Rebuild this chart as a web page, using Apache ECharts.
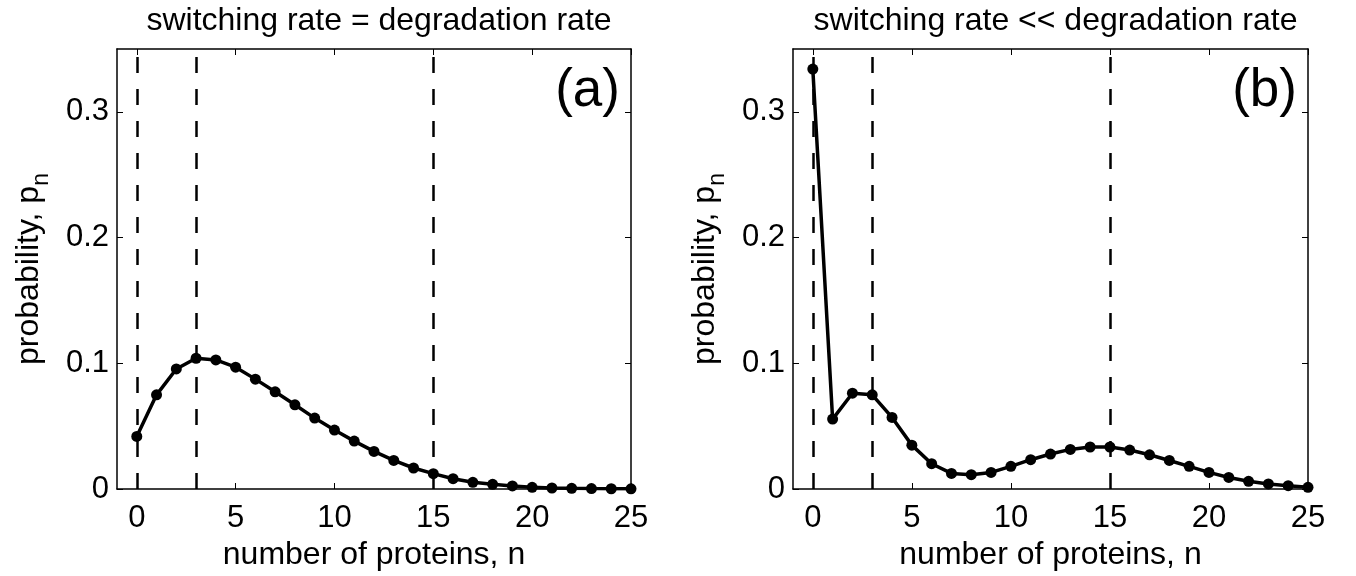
<!DOCTYPE html>
<html>
<head>
<meta charset="utf-8">
<script src="https://cdn.jsdelivr.net/npm/echarts@6/dist/echarts.min.js"></script>
<style>
  html, body { margin: 0; padding: 0; background: #fff; }
  #chart { width: 1356px; height: 576px; }
</style>
</head>
<body>
<div id="chart"></div>
<script>
// number of proteins n = 0..25
var proteins = [0, 1, 2, 3, 4, 5, 6, 7, 8, 9, 10, 11, 12, 13, 14, 15, 16, 17, 18, 19, 20, 21, 22, 23, 24, 25];

// panel (a): switching rate = degradation rate
var probEqual = [0.0418, 0.0749, 0.0955, 0.1040, 0.1027, 0.0969, 0.0874, 0.0773, 0.0670, 0.0564,
                 0.0469, 0.0381, 0.0299, 0.0227, 0.0167, 0.0122, 0.0082, 0.0053, 0.0037, 0.0024,
                 0.0013, 0.0008, 0.0005, 0.0003, 0.0002, 0.0001];

// panel (b): switching rate << degradation rate
var probSlow = [0.3340, 0.0556, 0.0762, 0.0749, 0.0569, 0.0349, 0.0201, 0.0124, 0.0114, 0.0132,
                0.0180, 0.0233, 0.0278, 0.0315, 0.0334, 0.0334, 0.0310, 0.0272, 0.0227, 0.0180,
                0.0132, 0.0092, 0.0061, 0.0040, 0.0026, 0.0013];

var dashedAt = [0, 3, 15];
var xTicks = [0, 5, 10, 15, 20, 25];
var yTicks = [0, 0.1, 0.2, 0.3];

var titles = ['switching rate = degradation rate', 'switching rate << degradation rate'];
var panelTags = ['(a)', '(b)'];

var FONT = "'Liberation Sans', Arial, Helvetica, sans-serif";
var FS = 32;     // titles and axis names
var FS_TICK = 31;

var grids = [
  { left: 117, top: 49, width: 514, height: 440 },
  { left: 793, top: 49, width: 515, height: 440 }
];

function toPairs(ys) {
  return proteins.map(function (n, i) { return [n, ys[i]]; });
}

var xAxes = [], yAxes = [], series = [], titleList = [];
var panels = [probEqual, probSlow];

for (let i = 0; i < 2; i++) {
  let g = grids[i];
  // bottom x axis
  xAxes.push({
    type: 'value', gridIndex: i, min: -1, max: 25, position: 'bottom',
    axisLine: { show: true, onZero: false, lineStyle: { color: '#000', width: 1.5 } },
    axisTick: { show: true, inside: true, length: 6, customValues: xTicks, lineStyle: { color: '#000', width: 1 } },
    axisLabel: { show: true, customValues: xTicks, margin: 14, color: '#000', fontSize: FS_TICK, fontFamily: FONT },
    splitLine: { show: false },
    name: 'number of proteins, n', nameLocation: 'middle', nameGap: 49,
    nameTextStyle: { color: '#000', fontSize: FS, fontFamily: FONT }
  });
  // top x axis (box)
  xAxes.push({
    type: 'value', gridIndex: i, min: -1, max: 25, position: 'top',
    axisLine: { show: true, onZero: false, lineStyle: { color: '#000', width: 1.5 } },
    axisTick: { show: true, inside: true, length: 6, customValues: xTicks, lineStyle: { color: '#000', width: 1 } },
    axisLabel: { show: false },
    splitLine: { show: false }
  });
  // left y axis
  yAxes.push({
    type: 'value', gridIndex: i, min: 0, max: 0.35, position: 'left',
    axisLine: { show: true, onZero: false, lineStyle: { color: '#000', width: 1.5 } },
    axisTick: { show: true, inside: true, length: 6, customValues: yTicks, lineStyle: { color: '#000', width: 1 } },
    axisLabel: {
      show: true, customValues: yTicks, margin: 8, color: '#000', fontSize: FS_TICK, fontFamily: FONT,
      formatter: function (v) { return v === 0 ? '0' : v.toFixed(1); }
    },
    splitLine: { show: false },
    name: '{m|probability, p}{s|n}', nameLocation: 'middle', nameGap: 64, nameRotate: 90,
    nameTextStyle: {
      color: '#000', fontFamily: FONT,
      rich: {
        m: { fontSize: FS, fontFamily: FONT, color: '#000', lineHeight: 48, verticalAlign: 'middle' },
        s: { fontSize: 23, fontFamily: FONT, color: '#000', lineHeight: 22, verticalAlign: 'bottom' }
      }
    }
  });
  // right y axis (box)
  yAxes.push({
    type: 'value', gridIndex: i, min: 0, max: 0.35, position: 'right',
    axisLine: { show: true, onZero: false, lineStyle: { color: '#000', width: 1.5 } },
    axisTick: { show: true, inside: true, length: 6, customValues: yTicks, lineStyle: { color: '#000', width: 1 } },
    axisLabel: { show: false },
    splitLine: { show: false }
  });

  series.push({
    type: 'line',
    xAxisIndex: i * 2, yAxisIndex: i * 2,
    data: toPairs(panels[i]),
    symbol: 'circle', symbolSize: 11,
    lineStyle: { color: '#000', width: 3.5 },
    itemStyle: { color: '#000' },
    z: 3,
    silent: true,
    markLine: {
      silent: true, symbol: 'none', z: 2,
      label: { show: false },
      lineStyle: { color: '#000', width: 2.5, type: [16, 16], dashOffset: 0 },
      emphasis: { disabled: true },
      data: dashedAt.map(function (x) { return { xAxis: x }; })
    }
  });

  titleList.push({
    text: titles[i], left: g.left + g.width / 2, top: 0, textAlign: 'center',
    textStyle: { color: '#000', fontSize: FS, fontWeight: 'normal', fontFamily: FONT }
  });
  titleList.push({
    text: panelTags[i], left: g.left + g.width - 16, top: 60, textAlign: 'right',
    textStyle: { color: '#000', fontSize: 53, fontWeight: 'normal', fontFamily: FONT }
  });
}

var chart = echarts.init(document.getElementById('chart'), null, { renderer: 'canvas' });
chart.setOption({
  backgroundColor: '#fff',
  animation: false,
  title: titleList,
  grid: grids,
  xAxis: xAxes,
  yAxis: yAxes,
  series: series
});
</script>
</body>
</html>
